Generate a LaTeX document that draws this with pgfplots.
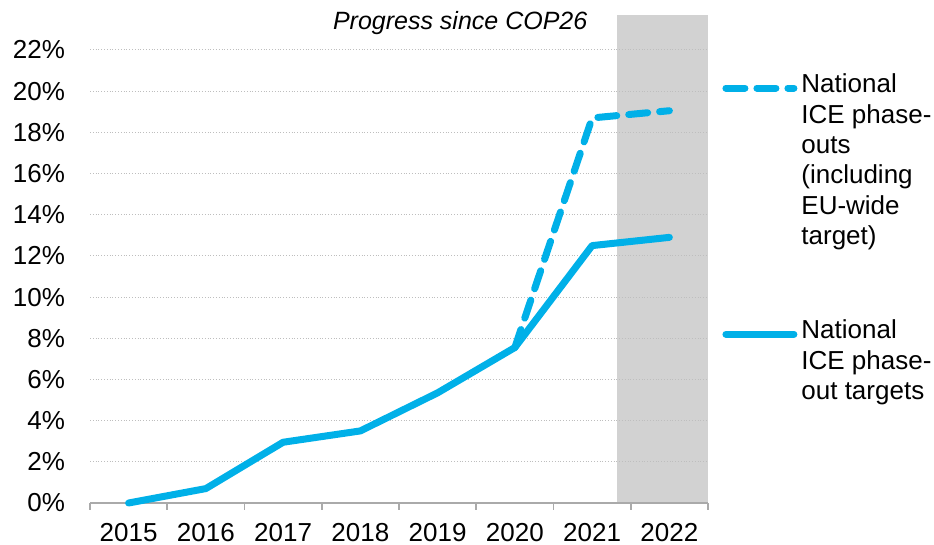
\documentclass[border=0pt]{standalone}
\usepackage{fontspec}
\setmainfont{Liberation Sans}
\usepackage{pgfplots}
\pgfplotsset{compat=1.18}
\definecolor{iceblue}{RGB}{0,176,232}
\definecolor{shade}{RGB}{210,210,210}
\definecolor{gridgray}{RGB}{190,190,190}
\definecolor{axisgray}{RGB}{170,170,170}

\begin{document}
\begin{tikzpicture}
\begin{axis}[
    at={(45pt,21pt)}, anchor=south west,
    scale only axis, width=309pt, height=226.5pt,
    set layers, clip=false,
    xmin=-0.5, xmax=7.5, ymin=0, ymax=22,
    xtick={-0.5,0.5,...,7.5},
    x tick label as interval,
    xticklabels={2015,2016,2017,2018,2019,2020,2021,2022},
    ytick={0,2,...,22},
    yticklabels={0\%,2\%,4\%,6\%,8\%,10\%,12\%,14\%,16\%,18\%,20\%,22\%},
    ymajorgrids,
    grid style={densely dotted, gridgray, line width=0.5pt},
    axis x line*=bottom, axis y line*=left,
    y axis line style={draw=none},
    x axis line style={axisgray, line width=1pt},
    tick align=outside, major tick length=3.5pt,
    xtick style={axisgray, line width=0.8pt},
    ytick style={draw=none},
    /pgf/number format/assume math mode=true,
    tick label style={font=\fontsize{13}{15.6}\selectfont},
    yticklabel style={xshift=-5.5pt},
    xticklabel style={yshift=-3.3pt},
    title={Progress since COP26},
    title style={at={(0.599,1)}, anchor=base, yshift=4pt,
        font=\fontsize{12.5}{15}\selectfont\itshape},
    legend image code/.code={\draw[#1, yshift=-9.3pt] (0pt,0pt) -- (34pt,0pt);},
    legend style={at={(1.0227,0.958)}, anchor=north west, draw=none, fill=none,
        inner sep=0pt, row sep=32pt, column sep=0pt,
        font=\fontsize{13}{15.2}\selectfont,
        cells={anchor=north west, align=left, inner xsep=2pt}},
]

% shaded period since COP26
\addplot[on layer=axis background, fill=shade, draw=none, forget plot]
    coordinates {(6.32,23.7) (7.5,23.7)} \closedcycle;

% including EU-wide target
\addplot[iceblue, line width=3.5pt, line cap=round, line join=round,
    dash pattern=on 9.5pt off 6pt]
    coordinates {(5,7.55) (6,18.7) (7,19.05)};
\addlegendentry{National\\ICE phase-\\outs\\(including\\EU-wide\\target)}

% national targets
\addplot[iceblue, line width=3.5pt, line cap=round, line join=round]
    coordinates {(0,0) (1,0.7) (2,2.95) (3,3.5) (4,5.35) (5,7.55) (6,12.5) (7,12.9)};
\addlegendentry{National\\ICE phase-\\out targets}

\end{axis}
\pgfresetboundingbox
\useasboundingbox (0,0) rectangle (467pt,272.5pt);
\end{tikzpicture}
\end{document}
